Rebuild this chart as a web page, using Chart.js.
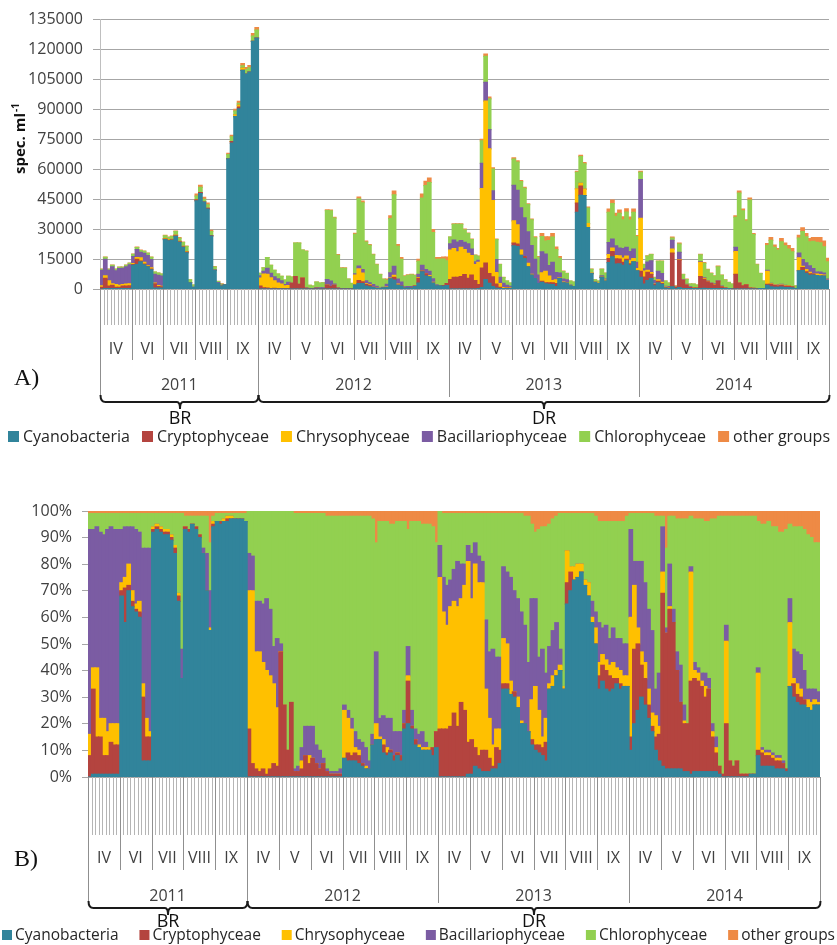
<!DOCTYPE html>
<html>
<head>
<meta charset="utf-8">
<script src="https://cdn.jsdelivr.net/npm/chart.js@4.4.1/dist/chart.umd.min.js"></script>
<style>
  html, body { margin: 0; padding: 0; background: #fff; }
  #wrap { position: relative; width: 837px; height: 945px; overflow: hidden; }
  canvas { position: absolute; left: 0; }
  #chartA { top: 0; }
  #chartB { top: 455px; }
</style>
</head>
<body>
<div id="wrap">
  <canvas id="chartA" width="837" height="455"></canvas>
  <canvas id="chartB" width="837" height="490"></canvas>
</div>
<script>
(function () {
  const FONT = '"Open Sans", "DejaVu Sans", sans-serif';

  /* ---------- sampling calendar ---------- */
  const years = ["2011", "2012", "2013", "2014"];
  const yearMonths = [
    ["IV", "VI", "VII", "VIII", "IX"],
    ["IV", "V", "VI", "VII", "VIII", "IX"],
    ["IV", "V", "VI", "VII", "VIII", "IX"],
    ["IV", "V", "VI", "VII", "VIII", "IX"]
  ];
  const samplesPerMonth = 9;
  const regimes = [
    { name: "BR", firstYear: 0, lastYear: 0 },
    { name: "DR", firstYear: 1, lastYear: 3 }
  ];

  const groupNames = ["Cyanobacteria", "Cryptophyceae", "Chrysophyceae", "Bacillariophyceae", "Chlorophyceae", "other groups"];
  const groupColors = ["#31849B", "#B4443F", "#FFC000", "#7B5CA3", "#92D050", "#EE8A45"];

  // total abundance of each sample, spec. ml-1 (one row per month)
  const totalAbundance = [
    10000, 16000, 10000, 12000, 10000, 11000, 11000, 12000, 13000,
    17500, 21000, 19500, 19000, 18000, 16000, 8500, 8000, 7500,
    26900, 26000, 26500, 29000, 25700, 23500, 21500, 4600, 2000,
    47500, 52000, 45900, 43000, 29400, 11200, 3800, 2600, 2200,
    68000, 77000, 90000, 94000, 113000, 111000, 112000, 128000, 131000,
    7800, 10600, 15700, 11900, 9400, 7500, 6400, 4500, 6400,
    6000, 23000, 23000, 19500, 19000, 1800, 1500, 3500, 3000,
    3100, 39700, 39500, 35900, 17200, 10600, 10600, 5000, 2800,
    27900, 46100, 44100, 24000, 22300, 17400, 12400, 7400, 5000,
    4900, 36700, 49100, 22300, 15700, 6600, 7100, 7400, 7000,
    14900, 47500, 54000, 55600, 29800, 15700, 15700, 16000, 16000,
    26000, 32700, 32700, 32700, 30000, 28000, 25000, 17000, 16500,
    75000, 117700, 96200, 60700, 25000, 12400, 5800, 4000, 3000,
    65700, 64200, 54300, 50900, 42700, 35000, 26100, 16200, 27700,
    26100, 26100, 27700, 21000, 16200, 9000, 7900, 4000, 3500,
    59000, 67000, 63300, 41000, 10000, 4600, 4000, 10000, 8000,
    40000, 44600, 37900, 39500, 36100, 40200, 36000, 40000, 26800,
    59000, 12400, 16600, 17400, 5800, 14000, 14000, 4000, 3000,
    26000, 1600, 23000, 7400, 4900, 2500, 2500, 2000, 17400,
    13200, 9900, 8000, 6600, 11500, 7000, 4600, 3300, 2500,
    36700, 49100, 40000, 34700, 45500, 27800, 12400, 7900, 4000,
    22700, 25700, 22000, 20300, 25200, 23000, 21800, 20300, 1600,
    26900, 30600, 27800, 25200, 25700, 25700, 25700, 24000, 15400
  ];

  // share of each group in a sample, %
  const cyanoShare = [
    0, 1, 1, 1, 1, 1, 1, 1, 1,
    68, 58, 70, 64, 62, 60, 6, 6, 6,
    92, 93, 92, 91, 91, 89, 84, 66, 37,
    93, 92, 95, 93, 90, 84, 70, 55, 94,
    96, 95, 96, 96, 97, 97, 97, 97, 96,
    0, 0, 0, 0, 0, 0, 0, 0, 0,
    0, 0, 0, 0, 0, 0, 0, 0, 0,
    0, 0, 0, 0, 0, 0, 0, 0, 0,
    7, 6, 6, 6, 5, 4, 3, 3, 12,
    14, 14, 9, 8, 9, 6, 8, 6, 18,
    20, 18, 12, 11, 10, 10, 10, 8, 11,
    0, 0, 0, 0, 0, 0, 0, 0, 1,
    1, 4, 3, 2, 2, 2, 3, 3, 5,
    33, 33, 31, 30, 26, 20, 20, 17, 12,
    10, 9, 8, 6, 33, 34, 38, 40, 33,
    65, 70, 74, 75, 77, 72, 68, 58, 50,
    33, 36, 33, 32, 33, 35, 33, 34, 34,
    10, 20, 25, 30, 27, 22, 17, 10, 6,
    4, 3, 3, 3, 3, 3, 2, 2, 1,
    2, 2, 2, 2, 2, 2, 2, 1, 0,
    0, 0, 0, 0, 0, 0, 0, 1, 1,
    8, 4, 4, 4, 4, 3, 3, 3, 2,
    34, 30, 28, 27, 27, 26, 25, 27, 27
  ];
  const cryptoShare = [
    8, 32, 14, 14, 7, 7, 12, 11, 11,
    2, 13, 2, 2, 1, 2, 24, 9, 9,
    1, 1, 1, 1, 1, 1, 2, 2, 0,
    1, 1, 0, 1, 1, 0, 0, 0, 1,
    0, 1, 0, 1, 0, 0, 0, 0, 0,
    18, 5, 3, 2, 3, 1, 3, 5, 4,
    47, 27, 10, 28, 2, 2, 3, 8, 5,
    7, 5, 3, 5, 2, 1, 1, 1, 1,
    0, 3, 2, 3, 3, 1, 0, 0, 0,
    0, 0, 3, 1, 1, 2, 1, 2, 2,
    16, 1, 2, 0, 0, 0, 0, 3, 6,
    18, 18, 18, 19, 24, 19, 28, 25, 12,
    13, 7, 5, 8, 8, 5, 1, 8, 5,
    2, 2, 0, 2, 0, 0, 0, 0, 2,
    2, 3, 3, 7, 0, 0, 0, 0, 0,
    8, 7, 0, 0, 0, 0, 0, 0, 0,
    5, 6, 7, 6, 4, 2, 2, 0, 0,
    5, 28, 25, 12, 10, 5, 2, 5, 10,
    65, 51, 60, 55, 37, 25, 18, 18, 35,
    35, 34, 32, 28, 31, 13, 7, 3, 1,
    20, 6, 4, 6, 1, 1, 1, 0, 0,
    2, 5, 4, 4, 3, 3, 3, 2, 1,
    0, 5, 3, 3, 2, 0, 0, 0, 0
  ];
  const chrysoShare = [
    8, 8, 26, 7, 14, 9, 7, 8, 8,
    3, 4, 8, 4, 2, 4, 5, 7, 2,
    1, 1, 1, 1, 1, 1, 1, 1, 0,
    0, 0, 0, 0, 0, 0, 0, 1, 1,
    0, 0, 1, 1, 1, 0, 0, 0, 0,
    52, 65, 44, 45, 40, 39, 35, 30, 22,
    0, 0, 0, 0, 0, 0, 3, 0, 3,
    0, 0, 0, 0, 0, 0, 0, 0, 0,
    18, 13, 10, 2, 2, 0, 1, 0, 0,
    6, 1, 2, 2, 0, 0, 0, 0, 0,
    2, 0, 0, 1, 1, 1, 1, 0, 0,
    57, 44, 39, 45, 42, 45, 39, 47, 68,
    53, 69, 65, 63, 23, 15, 8, 7, 8,
    17, 15, 5, 0, 4, 1, 0, 0, 15,
    22, 13, 4, 9, 2, 4, 2, 2, 1,
    12, 2, 5, 5, 3, 2, 5, 2, 6,
    5, 4, 4, 4, 6, 4, 5, 4, 4,
    45, 24, 6, 5, 6, 6, 5, 8, 3,
    8, 0, 1, 0, 0, 0, 1, 0, 41,
    3, 3, 2, 4, 0, 2, 2, 0, 0,
    31, 0, 0, 0, 0, 0, 0, 0, 0,
    29, 1, 1, 1, 1, 1, 1, 0, 0,
    24, 2, 4, 3, 0, 3, 3, 2, 1
  ];
  const bacilShare = [
    77, 52, 53, 70, 69, 76, 74, 73, 73,
    20, 19, 14, 24, 28, 26, 51, 64, 69,
    0, 0, 0, 0, 0, 0, 0, 0, 11,
    0, 0, 0, 0, 0, 2, 14, 14, 0,
    0, 0, 0, 0, 0, 0, 0, 0, 0,
    14, 13, 19, 19, 22, 27, 25, 14, 26,
    3, 0, 0, 0, 1, 2, 5, 11, 11,
    12, 7, 7, 2, 1, 1, 1, 1, 2,
    2, 3, 4, 6, 4, 8, 7, 3, 4,
    27, 7, 9, 11, 12, 9, 8, 9, 5,
    11, 6, 4, 4, 6, 2, 0, 0, 0,
    12, 13, 15, 10, 12, 17, 13, 8, 6,
    17, 8, 10, 8, 26, 25, 36, 27, 27,
    27, 27, 39, 38, 37, 41, 37, 26, 38,
    33, 20, 33, 17, 14, 17, 18, 6, 0,
    0, 0, 0, 0, 0, 0, 0, 6, 6,
    15, 10, 13, 10, 13, 11, 12, 12, 12,
    33, 9, 25, 34, 30, 30, 31, 10, 20,
    17, 2, 16, 5, 7, 14, 6, 0, 2,
    3, 2, 3, 5, 4, 3, 4, 0, 0,
    6, 0, 0, 0, 0, 0, 0, 0, 0,
    2, 1, 1, 1, 1, 1, 1, 1, 0,
    9, 11, 12, 13, 11, 4, 5, 4, 4
  ];
  const chloroShare = [
    6, 6, 5, 7, 8, 6, 5, 6, 6,
    6, 5, 5, 5, 6, 7, 13, 13, 13,
    5, 4, 5, 6, 6, 8, 12, 30, 51,
    4, 5, 3, 4, 7, 12, 14, 18, 2,
    3, 3, 2, 1, 1, 2, 2, 2, 3,
    16, 17, 34, 34, 35, 33, 37, 51, 48,
    50, 73, 90, 72, 96, 95, 88, 80, 80,
    80, 87, 89, 92, 95, 96, 96, 96, 95,
    71, 73, 76, 81, 84, 85, 87, 92, 81,
    41, 74, 73, 74, 73, 78, 79, 79, 71,
    44, 71, 78, 80, 78, 82, 84, 83, 71,
    13, 24, 27, 25, 21, 18, 19, 19, 12,
    15, 11, 16, 18, 40, 52, 51, 54, 54,
    20, 22, 24, 29, 32, 37, 41, 55, 28,
    25, 48, 46, 55, 46, 42, 40, 51, 65,
    14, 20, 20, 19, 19, 25, 26, 33, 36,
    38, 40, 39, 44, 40, 44, 44, 46, 48,
    6, 18, 18, 18, 26, 36, 44, 65, 59,
    4, 30, 18, 35, 50, 55, 70, 77, 19,
    54, 56, 58, 57, 59, 77, 82, 94, 97,
    41, 92, 94, 92, 97, 97, 97, 97, 97,
    55, 84, 85, 86, 85, 86, 84, 86, 90,
    28, 46, 47, 48, 53, 58, 57, 55, 56
  ];
  const otherShare = [
    1, 1, 1, 1, 1, 1, 1, 1, 1,
    1, 1, 1, 1, 1, 1, 1, 1, 1,
    1, 1, 1, 1, 1, 1, 1, 1, 1,
    2, 2, 2, 2, 2, 2, 2, 12, 2,
    1, 1, 1, 1, 1, 1, 1, 1, 1,
    0, 0, 0, 0, 0, 0, 0, 0, 0,
    0, 0, 0, 0, 1, 1, 1, 1, 1,
    1, 1, 1, 1, 2, 2, 2, 2, 2,
    2, 2, 2, 2, 2, 2, 2, 2, 3,
    12, 4, 4, 4, 5, 5, 4, 4, 4,
    7, 4, 4, 4, 5, 5, 5, 6, 12,
    0, 1, 1, 1, 1, 1, 1, 1, 1,
    1, 1, 1, 1, 1, 1, 1, 1, 1,
    1, 1, 1, 1, 1, 1, 2, 2, 5,
    8, 7, 6, 6, 5, 3, 2, 1, 1,
    1, 1, 1, 1, 1, 1, 1, 1, 2,
    4, 4, 4, 4, 4, 4, 4, 4, 2,
    1, 1, 1, 1, 1, 1, 1, 2, 2,
    2, 14, 2, 2, 3, 3, 3, 3, 2,
    3, 3, 3, 4, 4, 3, 3, 2, 2,
    2, 2, 2, 2, 2, 2, 2, 2, 2,
    4, 5, 5, 4, 6, 6, 8, 8, 7,
    5, 6, 6, 6, 7, 9, 10, 12, 12
  ];

  const shares = [cyanoShare, cryptoShare, chrysoShare, bacilShare, chloroShare, otherShare];

  /* ---------- sample labels ---------- */
  const sampleLabels = [];
  years.forEach((yr, y) => {
    yearMonths[y].forEach((m) => {
      for (let s = 1; s <= samplesPerMonth; s++) sampleLabels.push(`${yr} ${m} #${s}`);
    });
  });

  // month / year boundaries as sample indices
  const monthStarts = [];
  const yearStarts = [];
  let idx = 0;
  yearMonths.forEach((months) => {
    yearStarts.push(idx);
    months.forEach(() => { monthStarts.push(idx); idx += samplesPerMonth; });
  });
  monthStarts.push(idx);
  yearStarts.push(idx);

  /* ---------- custom category axis, brackets and legend ---------- */
  function brace(ctx, x0, x1, y, xm) {
    const h = 7, r = 5;
    ctx.beginPath();
    ctx.moveTo(x0, y - h);
    ctx.quadraticCurveTo(x0, y, x0 + r, y);
    ctx.lineTo(xm - 3, y);
    ctx.quadraticCurveTo(xm, y, xm, y + h);
    ctx.moveTo(xm, y + h);
    ctx.quadraticCurveTo(xm, y, xm + 3, y);
    ctx.lineTo(x1 - r, y);
    ctx.quadraticCurveTo(x1, y, x1, y - h);
    ctx.stroke();
  }

  const decorPlugin = {
    id: "decor",
    afterDraw(chart, args, o) {
      const ctx = chart.ctx;
      const xs = chart.scales.x;
      const base = chart.chartArea.bottom;
      const step = xs.getPixelForValue(1) - xs.getPixelForValue(0);
      const edge = (i) => xs.getPixelForValue(i) - step / 2;
      const px = (i) => Math.round(edge(i)) + 0.5;

      ctx.save();
      ctx.lineWidth = 1;

      // one tick per sample
      ctx.strokeStyle = "#B5B5B5";
      ctx.beginPath();
      for (let i = 0; i <= sampleLabels.length; i++) {
        ctx.moveTo(px(i), base);
        ctx.lineTo(px(i), o.tickEnd);
      }
      ctx.stroke();

      // month separators
      ctx.strokeStyle = "#8F8F8F";
      ctx.beginPath();
      monthStarts.forEach((i) => {
        if (yearStarts.includes(i)) return;
        ctx.moveTo(px(i), base);
        ctx.lineTo(px(i), o.monthDivEnd);
      });
      // year separators reach down to the brackets
      yearStarts.forEach((i, n) => {
        const outer = n === 0 || n === yearStarts.length - 1;
        const isJoin = regimes.some((r) => yearStarts[r.lastYear + 1] === i && n !== yearStarts.length - 1);
        ctx.moveTo(px(i), base);
        ctx.lineTo(px(i), outer || isJoin ? o.braceY - 7 : o.yearDivEnd);
      });
      ctx.stroke();

      // month and year names
      ctx.fillStyle = "#404040";
      ctx.textAlign = "center";
      ctx.textBaseline = "middle";
      ctx.font = "16px " + FONT;
      let m = 0;
      yearMonths.forEach((months, y) => {
        months.forEach((name) => {
          const a = edge(monthStarts[m]), b = edge(monthStarts[m + 1]);
          ctx.fillText(name, (a + b) / 2, o.monthLabelY);
          m++;
        });
        const a = edge(yearStarts[y]), b = edge(yearStarts[y + 1]);
        ctx.fillText(years[y], (a + b) / 2, o.yearLabelY);
      });

      // BR / DR brackets
      ctx.strokeStyle = "#1a1a1a";
      ctx.lineWidth = 2;
      ctx.fillStyle = "#111";
      ctx.font = "18px " + FONT;
      regimes.forEach((r) => {
        const x0 = px(yearStarts[r.firstYear]);
        const x1 = px(yearStarts[r.lastYear + 1]);
        const xm = Math.round((x0 + x1) / 2);
        brace(ctx, x0, x1, o.braceY, xm);
        ctx.fillText(r.name, xm, o.regimeLabelY);
      });

      // panel letter
      ctx.textAlign = "left";
      ctx.font = '24px "Liberation Serif", "DejaVu Serif", serif';
      ctx.fillText(o.panel, o.panelX, o.panelY);

      // legend
      ctx.font = o.legendFont + "px " + FONT;
      const widths = groupNames.map((n) => o.box + o.boxGap + ctx.measureText(n).width);
      const gap = (o.legendX1 - o.legendX0 - widths.reduce((s, w) => s + w, 0)) / (groupNames.length - 1);
      let lx = o.legendX0;
      groupNames.forEach((n, i) => {
        ctx.fillStyle = groupColors[i];
        ctx.fillRect(lx, Math.round(o.legendY - o.box / 2), o.box, o.box);
        ctx.fillStyle = "#262626";
        ctx.fillText(n, lx + o.box + o.boxGap, o.legendY + 1);
        lx += widths[i] + gap;
      });

      // y axis title with superscript
      if (o.yTitle) {
        ctx.translate(o.yTitle.x, o.yTitle.y);
        ctx.rotate(-Math.PI / 2);
        ctx.fillStyle = "#111";
        ctx.textAlign = "left";
        ctx.font = "bold 15px " + FONT;
        const main = "spec. ml";
        const w = ctx.measureText(main).width;
        ctx.font = "bold 10px " + FONT;
        const sw = ctx.measureText("-1").width;
        const start = -(w + sw) / 2;
        ctx.font = "bold 15px " + FONT;
        ctx.fillText(main, start, 0);
        ctx.font = "bold 10px " + FONT;
        ctx.fillText("-1", start + w + 1, -5);
      }
      ctx.restore();
    }
  };

  function barDatasets(values) {
    return groupNames.map((name, g) => ({
      label: name,
      data: values[g],
      backgroundColor: groupColors[g],
      borderWidth: 0,
      inflateAmount: 0.6,
      barPercentage: 1,
      categoryPercentage: 1,
      stack: "groups"
    }));
  }

  /* ---------- A) abundance ---------- */
  const abundance = shares.map((s) => s.map((p, i) => Math.round((totalAbundance[i] * p) / 100)));

  new Chart(document.getElementById("chartA"), {
    type: "bar",
    data: { labels: sampleLabels, datasets: barDatasets(abundance) },
    options: {
      responsive: false,
      animation: false,
      devicePixelRatio: 1,
      layout: { padding: { top: 17, right: 8, left: 0, bottom: 0 } },
      plugins: {
        legend: { display: false },
        tooltip: { enabled: false },
        decor: {
          tickEnd: 325, monthDivEnd: 360, monthLabelY: 349, yearLabelY: 385, yearDivEnd: 397,
          braceY: 402, regimeLabelY: 419, legendY: 436, legendX0: 8, legendX1: 830,
          legendFont: 16, box: 11, boxGap: 4, panel: "A)", panelX: 14, panelY: 379,
          yTitle: { x: 21, y: 139 }
        }
      },
      scales: {
        x: {
          stacked: true,
          grid: { display: false },
          ticks: { display: false },
          border: { color: "#A6A6A6" },
          afterFit: (s) => { s.height = 455 - 289; }
        },
        y: {
          stacked: true,
          min: 0,
          max: 135000,
          ticks: { stepSize: 15000, color: "#404040", font: { family: FONT, size: 16 }, padding: 10, callback: (v) => String(v) },
          grid: { color: "#A6A6A6", tickLength: 7 },
          border: { color: "#BFBFBF" },
          afterFit: (s) => { s.width = 100; }
        }
      }
    },
    plugins: [decorPlugin]
  });

  /* ---------- B) relative share ---------- */
  new Chart(document.getElementById("chartB"), {
    type: "bar",
    data: { labels: sampleLabels, datasets: barDatasets(shares) },
    options: {
      responsive: false,
      animation: false,
      devicePixelRatio: 1,
      layout: { padding: { top: 56, right: 17, left: 0, bottom: 0 } },
      plugins: {
        legend: { display: false },
        tooltip: { enabled: false },
        decor: {
          tickEnd: 380, monthDivEnd: 415, monthLabelY: 403, yearLabelY: 441, yearDivEnd: 448,
          braceY: 453, regimeLabelY: 467, legendY: 480, legendX0: 2, legendX1: 835,
          legendFont: 15.5, box: 10, boxGap: 3, panel: "B)", panelX: 14, panelY: 405
        }
      },
      scales: {
        x: {
          stacked: true,
          grid: { display: false },
          ticks: { display: false },
          border: { color: "#A6A6A6" },
          afterFit: (s) => { s.height = 490 - 322; }
        },
        y: {
          stacked: true,
          min: 0,
          max: 100,
          ticks: { stepSize: 10, color: "#404040", font: { family: FONT, size: 16 }, padding: 10, callback: (v) => v + "%" },
          grid: { drawOnChartArea: false, color: "#A6A6A6", tickLength: 6 },
          border: { color: "#A6A6A6" },
          afterFit: (s) => { s.width = 88; }
        }
      }
    },
    plugins: [decorPlugin]
  });
})();
</script>
</body>
</html>
